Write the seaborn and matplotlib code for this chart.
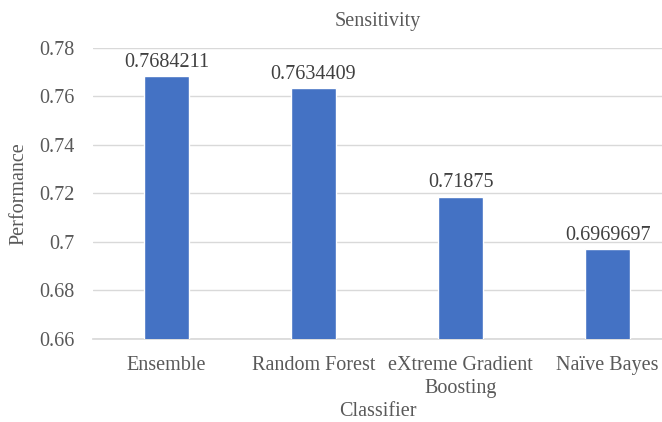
import matplotlib
matplotlib.use("Agg")
import matplotlib.pyplot as plt
import seaborn as sns
import pandas as pd

categories = ["Ensemble", "Random Forest", "eXtreme Gradient\nBoosting", "Naïve Bayes"]
values = [0.7684211, 0.7634409, 0.71875, 0.6969697]
labels = ["0.7684211", "0.7634409", "0.71875", "0.6969697"]
yticks = [0.66, 0.68, 0.70, 0.72, 0.74, 0.76, 0.78]
ytick_labels = ["0.66", "0.68", "0.7", "0.72", "0.74", "0.76", "0.78"]

sns.set_theme(style="white")
plt.rcParams['font.family'] = ['Liberation Serif', 'DejaVu Serif']

txt = "#595959"
fs = 14.5
df = pd.DataFrame({"Classifier": categories, "Performance": values})

fig = plt.figure(figsize=(6.62, 4.22), dpi=100)
ax = fig.add_axes([0.1405, 0.1967, 0.8595, 0.6896])
sns.barplot(data=df, x="Classifier", y="Performance", color="#4472C4",
            saturation=1, width=0.31, ax=ax, zorder=3)
ax.set_ylim(0.66, 0.78)
ax.set_xlim(-0.5, 3.37)
ax.set_yticks(yticks)
ax.set_yticklabels(ytick_labels)
ax.yaxis.grid(True, color="#D9D9D9", linewidth=1, zorder=0)
ax.set_axisbelow(True)
for s in ["top", "right", "left"]:
    ax.spines[s].set_visible(False)
ax.spines["bottom"].set_color("#D9D9D9")
ax.tick_params(axis="both", length=0, labelsize=fs, colors=txt)
ax.tick_params(axis="y", pad=13)
ax.tick_params(axis="x", pad=12)
for t in ax.get_xticklabels():
    t.set_linespacing(1.3)
ax.set_xlabel("Classifier", fontsize=fs, color=txt, labelpad=3)
ax.set_ylabel("Performance", fontsize=fs, color=txt, labelpad=8)
ax.set_title("Sensitivity", fontsize=fs, color=txt, pad=16)
ax.bar_label(ax.containers[0], labels=labels, fontsize=fs, color="#404040", padding=3)
fig.savefig("out.png", dpi=100)
